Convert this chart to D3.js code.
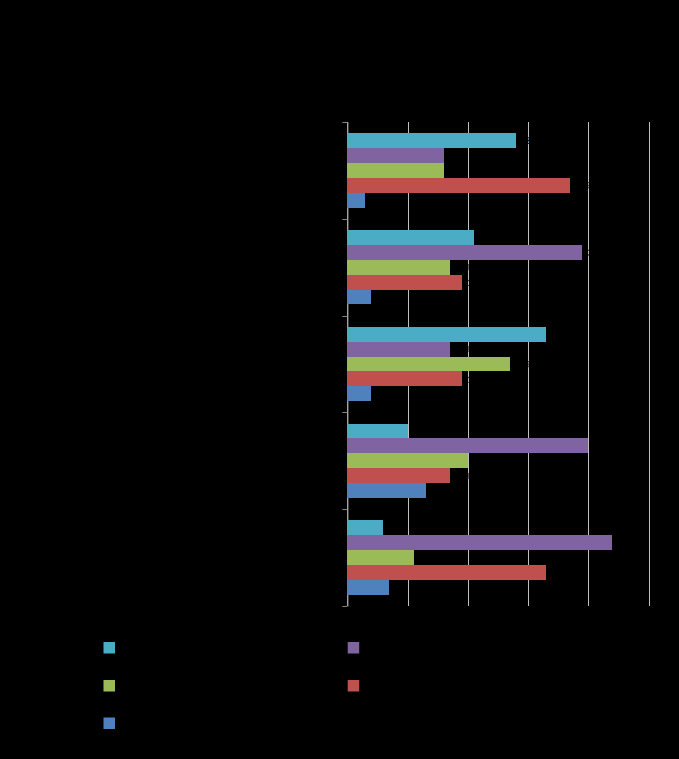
<!DOCTYPE html>
<html>
<head>
<meta charset="utf-8">
<script src="https://cdn.jsdelivr.net/npm/d3@7"></script>
<style>
  html, body { margin: 0; padding: 0; background: #000; }
  svg { display: block; }
</style>
</head>
<body>
<svg id="chart" width="679" height="759"></svg>
<script>
// ---- data ----
const categories = ["Category 1", "Category 2", "Category 3", "Category 4", "Category 5"]; // top to bottom
const seriesNames = ["Series 5", "Series 4", "Series 3", "Series 2", "Series 1"]; // top to bottom within a group
const seriesColors = ["#4BACC6", "#8064A2", "#9BBB59", "#C0504D", "#4F81BD"];
const series5 = [28, 21, 33, 10, 6];   // cyan
const series4 = [16, 39, 17, 40, 44];  // purple
const series3 = [16, 17, 27, 20, 11];  // green
const series2 = [37, 19, 19, 17, 33];  // red
const series1 = [3, 4, 4, 13, 7];      // blue
const seriesValues = [series5, series4, series3, series2, series1];
const xTicks = [0, 10, 20, 30, 40, 50];
const chartTitle = "Chart Title";

(function () {
  const svg = d3.select("#chart");
  const W = 679, H = 759;
  svg.append("rect").attr("width", W).attr("height", H).attr("fill", "#000");

  const plotLeft = 347.3, plotRight = 648.5, plotTop = 122, plotBottom = 606;
  const x = d3.scaleLinear().domain([0, 50]).range([plotLeft, plotRight]);
  const y0 = d3.scaleBand().domain(categories).range([plotTop, plotBottom]).padding(0);
  const y1 = d3.scaleBand().domain(seriesNames).range([0, y0.bandwidth()]).paddingInner(0).paddingOuter(0.75);

  const textColor = "#000";
  const font = "Calibri, Carlito, 'Liberation Sans', Arial, sans-serif";

  // title
  svg.append("text").attr("x", W / 2).attr("y", 50).attr("text-anchor", "middle")
    .attr("font-family", font).attr("font-size", 18).attr("font-weight", "bold")
    .attr("fill", textColor).text(chartTitle);

  // gridlines
  svg.append("g").selectAll("line").data(xTicks).join("line")
    .attr("x1", d => Math.round(x(d)) + 0.5).attr("x2", d => Math.round(x(d)) + 0.5)
    .attr("y1", plotTop).attr("y2", plotBottom)
    .attr("stroke", "#bfbfbf").attr("stroke-width", 1);

  // x axis tick labels
  const xAxis = d3.axisBottom(x).tickValues(xTicks).tickFormat(d => d + "%").tickSize(0).tickPadding(8);
  const gx = svg.append("g").attr("transform", `translate(0,${plotBottom})`).call(xAxis);
  gx.select(".domain").remove();
  gx.selectAll("text").attr("fill", textColor).attr("font-family", font).attr("font-size", 12);

  // y axis
  const yAxis = d3.axisLeft(y0).tickSize(0).tickPadding(8);
  const gy = svg.append("g").attr("transform", `translate(${Math.round(plotLeft) + 0.5},0)`).call(yAxis);
  gy.select(".domain").attr("stroke", "#868686");
  gy.selectAll("text").attr("fill", textColor).attr("font-family", font).attr("font-size", 12);
  // category boundary tick marks
  const boundaries = categories.map(c => y0(c)).concat([plotBottom]);
  svg.append("g").selectAll("line").data(boundaries).join("line")
    .attr("x1", plotLeft - 5).attr("x2", plotLeft)
    .attr("y1", d => Math.round(d) + 0.5).attr("y2", d => Math.round(d) + 0.5)
    .attr("stroke", "#868686").attr("stroke-width", 1);

  // bars
  const rows = (c, ci) => seriesNames.map((s, si) => ({ s, si, v: seriesValues[si][ci] }));
  const groups = svg.append("g").selectAll("g").data(categories).join("g")
    .attr("transform", c => `translate(0,${y0(c)})`);
  groups.selectAll("rect").data(rows).join("rect")
    .attr("x", x(0))
    .attr("y", d => y1(d.s))
    .attr("width", d => x(d.v) - x(0))
    .attr("height", y1.bandwidth())
    .attr("fill", d => seriesColors[d.si])
    .attr("shape-rendering", "crispEdges");

  // data labels
  groups.selectAll("text.lbl").data(rows).join("text").attr("class", "lbl")
    .attr("x", d => x(d.v) + 5)
    .attr("y", d => y1(d.s) + y1.bandwidth() / 2)
    .attr("dy", "0.35em")
    .attr("font-family", font).attr("font-size", 11)
    .attr("fill", textColor)
    .text(d => d.v + "%");

  // legend
  const legendCols = [103.5, 347.7];
  const legendRows = [648, 686, 723.5];
  const leg = svg.append("g").selectAll("g").data(seriesNames).join("g")
    .attr("transform", (d, i) => `translate(${legendCols[i % 2]},${legendRows[Math.floor(i / 2)]})`);
  leg.append("rect").attr("x", 0).attr("y", -6).attr("width", 11.5).attr("height", 11.5)
    .attr("fill", (d, i) => seriesColors[i]);
  leg.append("text").attr("x", 17).attr("y", 0).attr("dy", "0.35em")
    .attr("font-family", font).attr("font-size", 12).attr("fill", textColor)
    .text(d => d);
})();
</script>
</body>
</html>
